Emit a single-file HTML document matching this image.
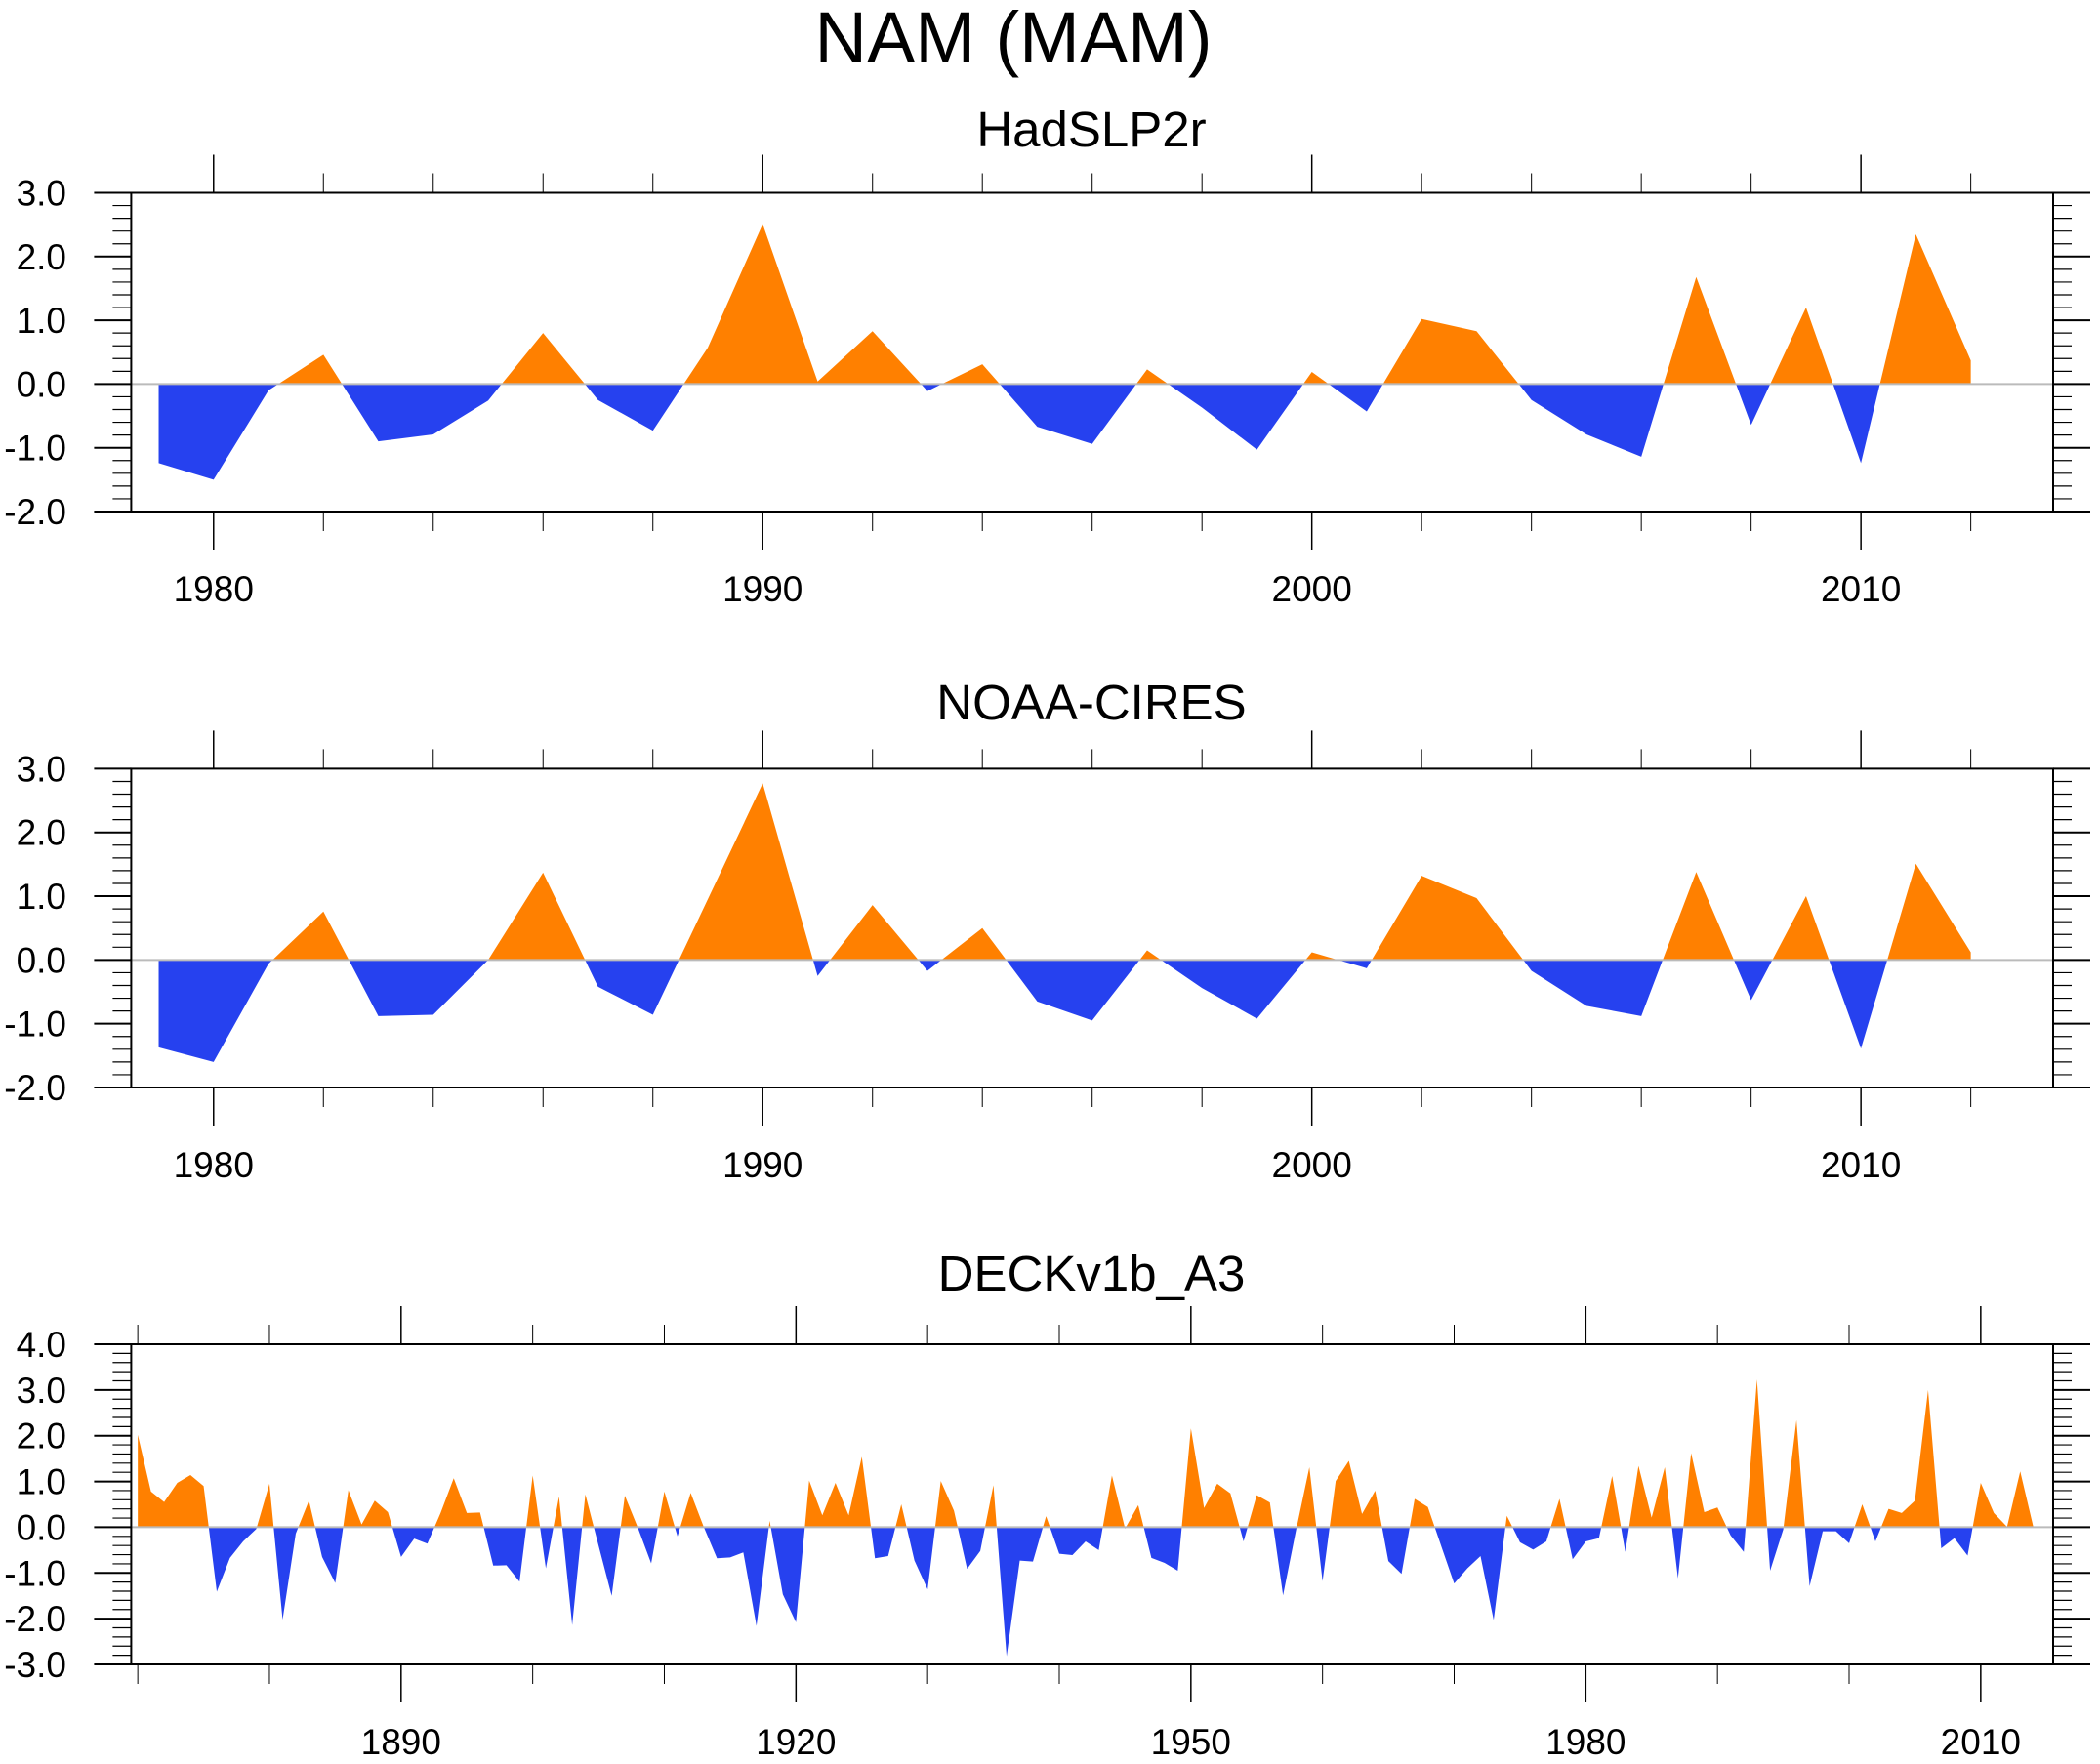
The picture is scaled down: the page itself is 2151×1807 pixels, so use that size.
<!DOCTYPE html>
<html><head><meta charset="utf-8"><style>
html,body{margin:0;padding:0;background:#fff;}
svg{display:block;font-family:"Liberation Sans",Arial,sans-serif;}
</style></head><body>
<svg id="chart" width="2151" height="1807" viewBox="0 0 2151 1807" xmlns="http://www.w3.org/2000/svg">
<text x="1038" y="64" font-size="74" text-anchor="middle">NAM (MAM)</text>
</svg>
<script>
const hadYears = [1979,1980,1981,1982,1983,1984,1985,1986,1987,1988,1989,1990,1991,1992,1993,1994,1995,1996,1997,1998,1999,2000,2001,2002,2003,2004,2005,2006,2007,2008,2009,2010,2011,2012];
const hadValues = [-1.24,-1.5,-0.1,0.46,-0.9,-0.79,-0.26,0.8,-0.25,-0.73,0.57,2.51,0.04,0.83,-0.11,0.31,-0.67,-0.94,0.23,-0.37,-1.03,0.19,-0.43,1.02,0.83,-0.25,-0.79,-1.14,1.68,-0.64,1.2,-1.24,2.35,0.37];
const noaaYears = hadYears;
const noaaValues = [-1.37,-1.6,-0.06,0.76,-0.88,-0.86,0.0,1.37,-0.42,-0.86,0.95,2.77,-0.25,0.86,-0.17,0.5,-0.65,-0.95,0.15,-0.44,-0.92,0.12,-0.13,1.32,0.97,-0.17,-0.72,-0.88,1.38,-0.63,1.0,-1.39,1.51,0.12];
const deckStartYear = 1870;
const deckValues = [2.02,0.78,0.55,0.97,1.14,0.9,-1.41,-0.67,-0.31,-0.04,0.95,-2.02,-0.14,0.58,-0.65,-1.22,0.81,0.06,0.58,0.33,-0.65,-0.25,-0.36,0.31,1.07,0.31,0.32,-0.84,-0.83,-1.19,1.13,-0.9,0.67,-2.14,0.72,-0.4,-1.5,0.69,-0.02,-0.79,0.78,-0.2,0.75,0.0,-0.68,-0.66,-0.55,-2.16,0.14,-1.47,-2.08,1.02,0.26,0.97,0.26,1.54,-0.68,-0.63,0.5,-0.73,-1.36,1.01,0.36,-0.91,-0.52,0.92,-2.82,-0.73,-0.75,0.24,-0.58,-0.61,-0.31,-0.5,1.13,-0.03,0.48,-0.67,-0.78,-0.95,2.16,0.42,0.95,0.74,-0.31,0.7,0.54,-1.49,-0.05,1.31,-1.18,1.01,1.45,0.29,0.8,-0.74,-1.02,0.62,0.44,-0.4,-1.23,-0.9,-0.63,-2.03,0.25,-0.33,-0.49,-0.31,0.62,-0.7,-0.31,-0.24,1.12,-0.54,1.34,0.21,1.31,-1.12,1.62,0.33,0.43,-0.18,-0.54,3.23,-0.95,-0.05,2.34,-1.29,-0.09,-0.09,-0.35,0.5,-0.31,0.4,0.31,0.58,3.0,-0.46,-0.24,-0.62,0.97,0.31,0.01,1.22,0.0];
const deckYears = deckValues.map((v,i)=>deckStartYear+i);
const yTicks12 = [-2,-1,0,1,2,3];
const yTicks3 = [-3,-2,-1,0,1,2,3,4];
const xLabels12 = [1980,1990,2000,2010];
const xLabels3 = [1890,1920,1950,1980,2010];

const NS='http://www.w3.org/2000/svg';
const svg=document.getElementById('chart');
function mk(tag,attrs,parent){const e=document.createElementNS(NS,tag);for(const k in attrs)e.setAttribute(k,attrs[k]);(parent||svg).appendChild(e);return e;}
const L=134.4,R=2103;

function panel(cfg){
  const g=mk('g',{});
  
  
  const sx=y=>L+(y-cfg.xmin)/(cfg.xmax-cfg.xmin)*(R-L);
  const sy=v=>cfg.bot+(v-cfg.ymin)/(cfg.ymax-cfg.ymin)*(cfg.top-cfg.bot);
  const t=mk('text',{x:1118,y:cfg.titleY,'font-size':51,'text-anchor':'middle'},g);
  t.textContent=cfg.title;
  
  
  // fills
  const xs=cfg.years, vs=cfg.values;
  let pos=[],neg=[];
  const z=sy(0);
  pos.push([sx(xs[0]),z]);neg.push([sx(xs[0]),z]);
  for(let i=0;i<xs.length;i++){
    const x=sx(xs[i]),y=sy(vs[i]);
    if(i>0&&((vs[i-1]>0&&vs[i]<0)||(vs[i-1]<0&&vs[i]>0))){
      const f=vs[i-1]/(vs[i-1]-vs[i]);
      const cx=sx(xs[i-1])+f*(x-sx(xs[i-1]));
      pos.push([cx,z]);neg.push([cx,z]);
    }
    pos.push([x,vs[i]>0?y:z]);neg.push([x,vs[i]<0?y:z]);
  }
  pos.push([sx(xs[xs.length-1]),z]);neg.push([sx(xs[xs.length-1]),z]);
  const p1=mk('polygon',{points:pos.map(p=>p.join(',')).join(' '),fill:'#ff8000'},g);
  
  
  const p2=mk('polygon',{points:neg.map(p=>p.join(',')).join(' '),fill:'#2641ef'},g);
  
  
  const zl=mk('line',{x1:L,x2:R,y1:z,y2:z,stroke:'#bbb','stroke-width':2},g);
  
  
  // frame
  const fr=mk('rect',{x:L,y:cfg.top,width:R-L,height:cfg.bot-cfg.top,fill:'none',stroke:'#000','stroke-width':2},g);
  
  
  // y ticks
  for(let v=cfg.ymin;v<=cfg.ymax+1e-6;v+=0.2){
    const major=Math.abs(v-Math.round(v))<1e-6;
    const y=sy(v), len=major?38:19;
    mk('line',{x1:L-len,x2:L,y1:y,y2:y,stroke:'#000','stroke-width':major?2:1.2},g);
    mk('line',{x1:R,x2:R+len,y1:y,y2:y,stroke:'#000','stroke-width':major?2:1.2},g);
  }
  cfg.yTicks.forEach(v=>{
    const tx=mk('text',{x:68,y:sy(v)+13,'font-size':37,'text-anchor':'end'},g);
    tx.textContent=v.toFixed(1);
    
    
  });
  // x ticks
  for(let yr=cfg.tickStart;yr<=cfg.xmax;yr+=cfg.minorStep){
    const major=(yr-cfg.majorBase)%cfg.majorStep===0;
    const x=sx(yr), len=major?39:20;
    mk('line',{x1:x,x2:x,y1:cfg.top-len,y2:cfg.top,stroke:'#000','stroke-width':major?1.5:1},g);
    mk('line',{x1:x,x2:x,y1:cfg.bot,y2:cfg.bot+len,stroke:'#000','stroke-width':major?1.5:1},g);
  }
  cfg.xLabels.forEach(yr=>{
    const tx=mk('text',{x:sx(yr),y:cfg.bot+92,'font-size':37,'text-anchor':'middle'},g);
    tx.textContent=yr;
    
    
  });
}
panel({name:'hadslp2r-panel',title:'HadSLP2r',titleY:150,top:197.5,bot:524,ymin:-2,ymax:3,xmin:1978.5,xmax:2013.5,years:hadYears,values:hadValues,yTicks:yTicks12,xLabels:xLabels12,tickStart:1980,minorStep:2,majorBase:1980,majorStep:10});
panel({name:'noaa-cires-panel',title:'NOAA-CIRES',titleY:737,top:787.4,bot:1114,ymin:-2,ymax:3,xmin:1978.5,xmax:2013.5,years:noaaYears,values:noaaValues,yTicks:yTicks12,xLabels:xLabels12,tickStart:1980,minorStep:2,majorBase:1980,majorStep:10});
panel({name:'deckv1b-a3-panel',title:'DECKv1b_A3',titleY:1322,top:1377,bot:1705,ymin:-3,ymax:4,xmin:1869.5,xmax:2015.5,years:deckYears,values:deckValues,yTicks:yTicks3,xLabels:xLabels3,tickStart:1870,minorStep:10,majorBase:1890,majorStep:30});
</script>
</body></html>
